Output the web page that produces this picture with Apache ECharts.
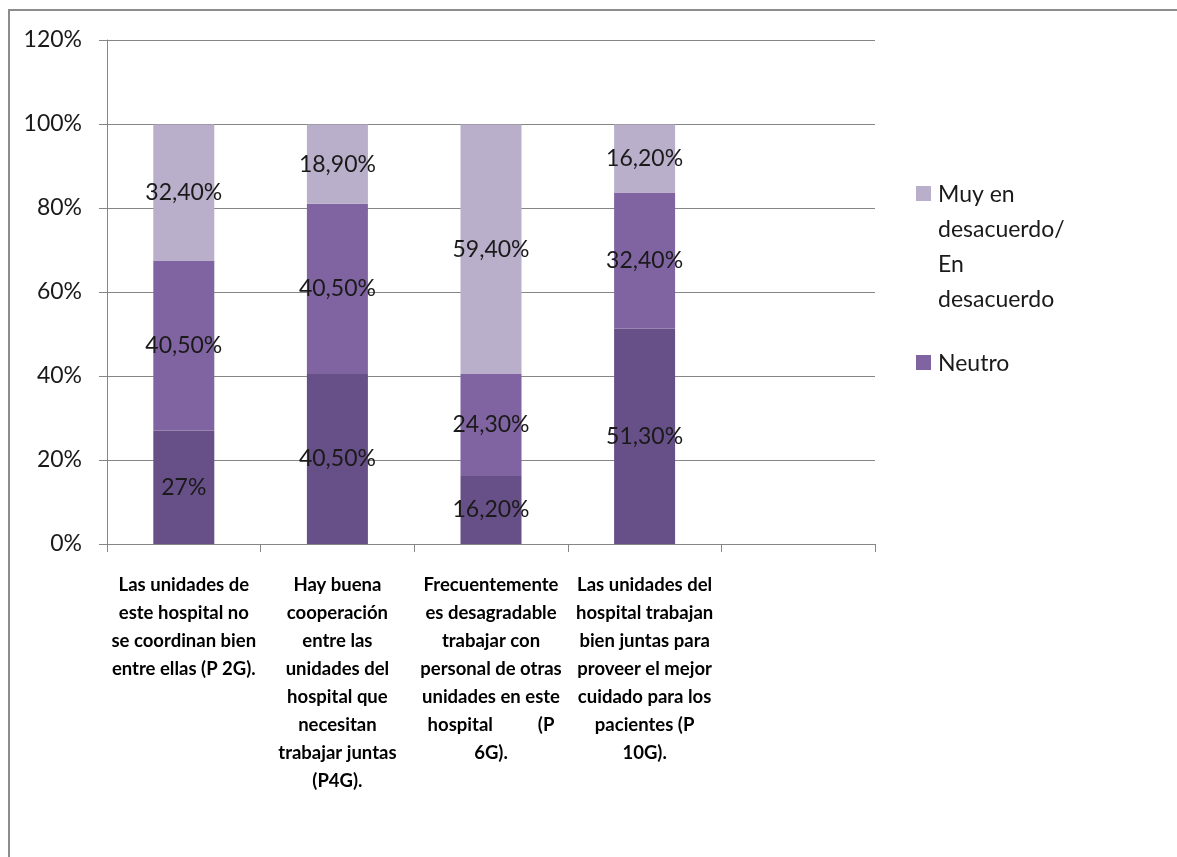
<!DOCTYPE html>
<html>
<head>
<meta charset="utf-8">
<script src="https://cdn.jsdelivr.net/npm/echarts@6/dist/echarts.min.js"></script>
<style>
  html, body { margin: 0; padding: 0; background: #fff; }
  #chart { width: 1177px; height: 857px; }
</style>
</head>
<body>
<div id="chart"></div>
<script>
// Survey items (question labels wrapped as shown under each bar); the last slot is empty
const categories = [
  'Las unidades de\neste hospital no\nse coordinan bien\nentre ellas (P 2G).',
  'Hay buena\ncooperación\nentre las\nunidades del\nhospital que\nnecesitan\ntrabajar juntas\n(P4G).',
  'Frecuentemente\nes desagradable\ntrabajar con\npersonal de otras\nunidades en este\nhospital          (P\n6G).',
  'Las unidades del\nhospital trabajan\nbien juntas para\nproveer el mejor\ncuidado para los\npacientes (P\n10G).',
  ''
];

// Percentages per response group, bottom to top of each stack
const acuerdo     = [27.0, 40.5, 16.2, 51.3, null];
const neutro      = [40.5, 40.5, 24.3, 32.4, null];
const desacuerdo  = [32.4, 18.9, 59.4, 16.2, null];

const seriesNames = ['Muy de acuerdo/ De acuerdo', 'Neutro', 'Muy en desacuerdo/ En desacuerdo'];
const legendLines = { 'Neutro': ['Neutro'], 'Muy en desacuerdo/ En desacuerdo': ['Muy en', 'desacuerdo/', 'En', 'desacuerdo'] };
const colors = ['#674f87', '#8064a2', '#b9afca'];

const yTicks = [0, 20, 40, 60, 80, 100, 120];

const FONT = 'Lato, "Open Sans", sans-serif';

function pctLabel(v) {
  if (Number.isInteger(v)) return v + '%';
  return v.toFixed(2).replace('.', ',') + '%';
}

const chart = echarts.init(document.getElementById('chart'), null, { renderer: 'canvas' });

const seriesData = [acuerdo, neutro, desacuerdo];
const series = seriesNames.map((name, i) => ({
  name: name,
  type: 'bar',
  stack: 'total',
  barWidth: 61,
  data: seriesData[i],
  itemStyle: { color: colors[i] },
  label: {
    show: true,
    position: 'inside',
    color: '#1a1a1a',
    fontFamily: FONT,
    fontSize: 23,
    formatter: p => (p.value == null ? '' : pctLabel(p.value))
  },
  emphasis: { disabled: true }
}));

// Legend drawn as graphics: top-aligned swatch next to wrapped text (two entries shown)
const legendItems = [
  { name: seriesNames[2], color: colors[2], top: 186 },
  { name: seriesNames[1], color: colors[1], top: 355 }
];
const legendGraphics = [];
legendItems.forEach(it => {
  legendGraphics.push({
    type: 'rect',
    shape: { x: 916, y: it.top, width: 15, height: 15 },
    style: { fill: it.color }
  });
  legendGraphics.push({
    type: 'text',
    x: 938,
    y: it.top - 9,
    style: {
      text: legendLines[it.name].join('\n'),
      font: '23px ' + FONT,
      fill: '#1a1a1a',
      lineHeight: 35,
      textVerticalAlign: 'top'
    }
  });
});

chart.setOption({
  animation: false,
  backgroundColor: '#ffffff',
  grid: { left: 107, top: 40, right: 302, bottom: 313, containLabel: false },
  xAxis: {
    type: 'category',
    data: categories,
    axisLine: { lineStyle: { color: '#868686', width: 1 } },
    axisTick: { show: true, length: 8, lineStyle: { color: '#868686' } },
    axisLabel: {
      interval: 0,
      margin: 27,
      color: '#000',
      fontFamily: FONT,
      fontWeight: 'bold',
      fontSize: 18.5,
      lineHeight: 28,
      align: 'center'
    }
  },
  yAxis: {
    type: 'value',
    min: 0,
    max: 120,
    interval: 20,
    axisLine: { show: true, lineStyle: { color: '#868686', width: 1 } },
    axisTick: { show: true, length: 8, lineStyle: { color: '#868686' } },
    splitLine: { show: true, lineStyle: { color: '#868686', width: 1 } },
    axisLabel: {
      margin: 25,
      color: '#1a1a1a',
      fontFamily: FONT,
      fontSize: 23,
      formatter: v => (yTicks.includes(v) ? v + '%' : '')
    }
  },
  series: series,
  graphic: [
    {
      type: 'rect',
      shape: { x: 9, y: 10, width: 1400, height: 1000 },
      style: { fill: 'none', stroke: '#8c8c8c', lineWidth: 2 },
      silent: true
    },
    ...legendGraphics
  ]
});
</script>
</body>
</html>
